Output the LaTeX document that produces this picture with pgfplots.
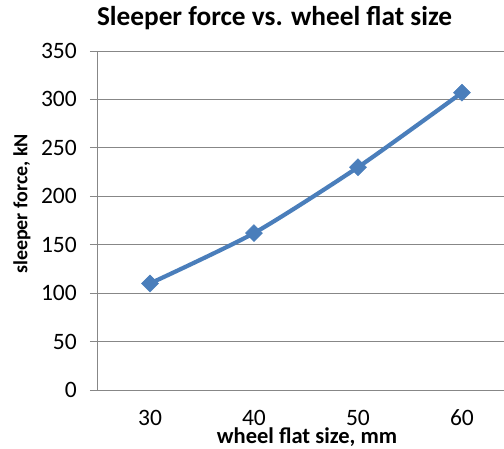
\documentclass[border=0pt]{standalone}
\usepackage{pgfplots}
\pgfplotsset{compat=1.18}
\usepackage{fontspec}
\setmainfont{Carlito}
\definecolor{series}{HTML}{4A7EBB}
\definecolor{gridgray}{HTML}{878787}
\begin{document}
\begin{tikzpicture}[x=1pt,y=1pt]
\useasboundingbox (0,0) rectangle (504,448);
\begin{axis}[
  at={(98pt,58pt)}, anchor=south west,
  scale only axis, width=406pt, height=339pt,
  xmin=-0.5, xmax=3.404, ymin=0, ymax=350,
  ytick={0,50,...,350},
  xtick={0,1,2,3}, xticklabels={30,40,50,60},
  axis x line*=bottom, axis y line*=left,
  axis line style={gridgray, line width=1pt, -},
  ymajorgrids, major grid style={gridgray, line width=1pt},
  x tick style={draw=none},
  y tick style={gridgray, line width=1pt},
  tick align=outside, major tick length=8pt,
  /pgf/number format/assume math mode=true,
  tick label style={font=\fontsize{23.5}{27}\selectfont, text=black},
  yticklabel style={anchor=east, inner sep=0pt, xshift=-13pt},
  xticklabel style={anchor=base, inner sep=0pt, yshift=-27pt},
  title={Sleeper force vs. wheel flat size},
  title style={font=\fontsize{27.3}{32}\selectfont\bfseries, anchor=base,
    at={([yshift=19.3pt]rel axis cs:0.435,1)}, inner sep=0pt},
  xlabel={wheel flat size, mm},
  xlabel style={font=\fontsize{22.5}{26}\selectfont\bfseries, anchor=base,
    at={([yshift=-53.5pt]rel axis cs:0.515,0)}, inner sep=0pt},
  ylabel={sleeper force, kN},
  ylabel style={font=\fontsize{20}{24}\selectfont\bfseries, anchor=center,
    at={([xshift=-76pt]rel axis cs:0,0.549)}, inner sep=0pt},
]
\addplot[series, line width=4.2pt, smooth, tension=0.4,
  mark=square*, mark size=6pt, mark options={rotate=45, fill=series, draw=series, line width=0.5pt}]
  coordinates {(0,110) (1,162) (2,230) (3,307)};
\end{axis}
\end{tikzpicture}
\end{document}
